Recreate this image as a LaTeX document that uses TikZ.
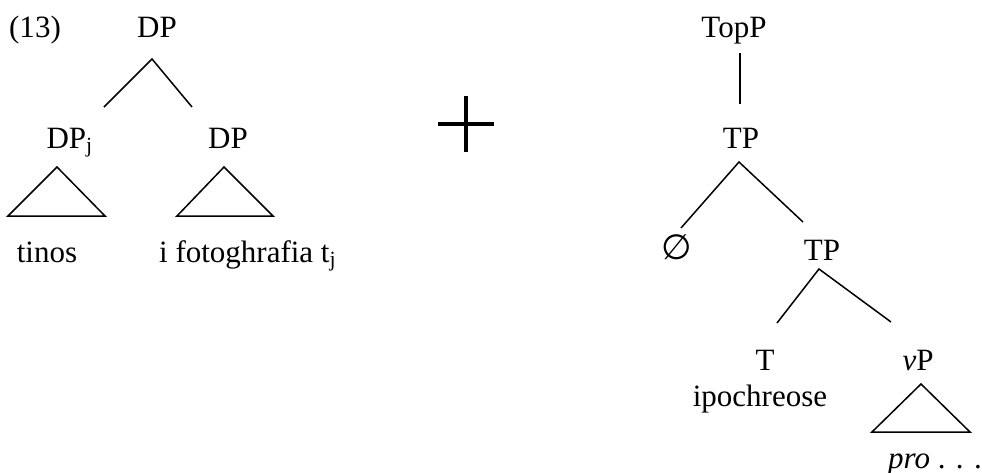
\documentclass[tikz,border=0pt]{standalone}
\usepackage{fontspec}
\setmainfont{Liberation Serif}
\newfontfamily\symfont{DejaVu Sans}
\usepackage{tikz}

\begin{document}
\begin{tikzpicture}[x=0.4pt, y=-0.4pt,
  w/.style={anchor=base, inner sep=0pt, font=\fontsize{12.4}{15}\selectfont},
  br/.style={line width=0.6pt},
  tri/.style={line width=0.6pt, line join=miter}]
  \useasboundingbox (0,0) rectangle (982,473);
  % left tree
  \node[w] (ex)   at (35,38)   {(13)};
  \node[w] (dp)   at (157,38)  {DP};
  \node[w] (dpj)  at (70,148)  {DP\textsubscript{j}};
  \node[w] (dp2)  at (228,148) {DP};
  \node[w] (tin)  at (47,262)  {tinos};
  \node[w] (fot)  at (248,262) {i fotoghrafia t\textsubscript{j}};
  \coordinate (dp-a) at (152,59);
  \coordinate (dp-l) at (104,107);
  \coordinate (dp-r) at (192,107);
  \draw[br] (dp-l) -- (dp-a) -- (dp-r);
  \draw[tri] (57,167) -- (8,216) -- (105,216) -- cycle;
  \draw[tri] (224,167) -- (177,216) -- (273,216) -- cycle;
  % plus
  \coordinate (pl-t) at (466,96);
  \coordinate (pl-b) at (466,152);
  \coordinate (pl-l) at (438,124);
  \coordinate (pl-r) at (494,124);
  \draw[line width=1.6pt] (pl-t) -- (pl-b) (pl-l) -- (pl-r);
  % right tree
  \node[w] (top)  at (734,37)  {TopP};
  \node[w] (tp)   at (741,148) {TP};
  \node[w] (nul)  at (677,259) {\symfont\fontsize{14}{17}\selectfont ∅};
  \node[w] (tp2)  at (822,260) {TP};
  \node[w] (t)    at (765,370) {T};
  \node[w] (ipo)  at (760,406) {ipochreose};
  \node[w] (vp)   at (918,370) {\textit{v}P};
  \node[w] (pro)  at (935,468) {\textit{pro} . . .};
  \coordinate (top-a) at (740,53);
  \coordinate (top-b) at (740,104);
  \draw[br] (top-a) -- (top-b);
  \coordinate (tp-a) at (739,162);
  \coordinate (tp-l) at (681,228);
  \coordinate (tp-r) at (803,222);
  \draw[br] (tp-l) -- (tp-a) -- (tp-r);
  \coordinate (tp2-a) at (819,269);
  \coordinate (tp2-l) at (777,323);
  \coordinate (tp2-r) at (891,322);
  \draw[br] (tp2-l) -- (tp2-a) -- (tp2-r);
  \draw[tri] (921,384) -- (872,432) -- (970,432) -- cycle;
\end{tikzpicture}
\end{document}
